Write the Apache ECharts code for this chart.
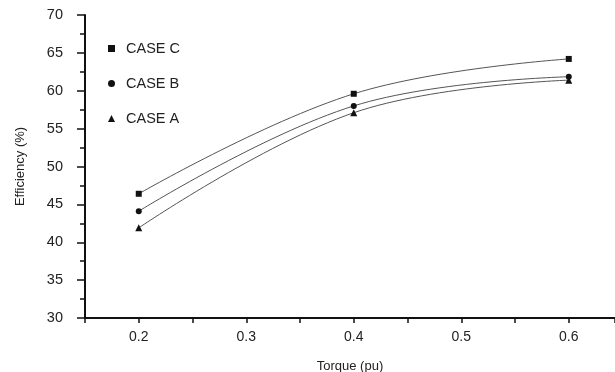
<!DOCTYPE html>
<html>
<head>
<meta charset="utf-8">
<script src="https://cdn.jsdelivr.net/npm/echarts@6/dist/echarts.min.js"></script>
<style>html,body{margin:0;padding:0;background:#fff}#c{width:615px;height:372px}</style>
</head>
<body>
<div id="c"></div>
<script>
const torque = [0.2, 0.4, 0.6];
const caseA = [41.9, 57.1, 61.4];
const caseB = [44.1, 58.0, 61.85];
const caseC = [46.4, 59.6, 64.2];
const seriesNames = ['CASE C', 'CASE B', 'CASE A'];
const xTickLabels = ['0.2', '0.3', '0.4', '0.5', '0.6'];

const font = '"Liberation Sans", Arial, sans-serif';
const chart = echarts.init(document.getElementById('c'));

function mk(name, vals, symbol) {
  return {
    name: name, type: 'line', smooth: 0.4,
    data: torque.map((t, i) => [t, vals[i]]),
    symbol: symbol, symbolSize: symbol === 'triangle' ? 7 : 6,
    showSymbol: true,
    lineStyle: { color: '#555', width: 1 },
    itemStyle: { color: '#111' },
    z: 3
  };
}

chart.setOption({
  animation: false,
  backgroundColor: '#fff',
  grid: { left: 85, right: 0, top: 15, bottom: 54, containLabel: false, outerBoundsMode: 'none' },
  legend: {
    orient: 'vertical', left: 103, top: 36, itemGap: 20,
    itemWidth: 7, itemHeight: 7,
    data: [
      { name: seriesNames[0], icon: 'rect' },
      { name: seriesNames[1], icon: 'circle' },
      { name: seriesNames[2], icon: 'triangle' }
    ],
    textStyle: { fontFamily: font, fontSize: 14.5, color: '#222', padding: [5, 0, 0, 6] }
  },
  xAxis: {
    type: 'value', min: 0.15, max: 0.643, interval: 0.05,
    name: 'Torque (pu)', nameLocation: 'middle', nameGap: 42,
    nameTextStyle: { fontFamily: font, fontSize: 13, color: '#222' },
    axisLine: { onZero: false, lineStyle: { color: '#111', width: 2 } },
    axisTick: { show: true, length: 5, lineStyle: { color: '#111', width: 1.5 } },
    splitLine: { show: false },
    axisLabel: {
      fontFamily: font, fontSize: 14, color: '#222', margin: 12,
      showMinLabel: true, showMaxLabel: true,
      formatter: function (v) {
        const one = (Math.round(v * 10) / 10).toFixed(1);
        if (Math.abs(v * 10 - Math.round(v * 10)) < 1e-6 && xTickLabels.indexOf(one) >= 0) return one;
        return '';
      }
    }
  },
  yAxis: {
    type: 'value', min: 30, max: 70, interval: 5,
    name: 'Efficiency (%)', nameLocation: 'middle', nameGap: 58,
    nameTextStyle: { fontFamily: font, fontSize: 13, color: '#222' },
    axisLine: { show: true, lineStyle: { color: '#111', width: 2 } },
    axisTick: { show: true, length: 8, lineStyle: { color: '#111', width: 1.5 } },
    minorTick: { show: true, splitNumber: 2, length: 5, lineStyle: { color: '#111', width: 1.5 } },
    splitLine: { show: false },
    axisLabel: { fontFamily: font, fontSize: 14.5, color: '#222', margin: 22 }
  },
  series: [
    mk(seriesNames[0], caseC, 'rect'),
    mk(seriesNames[1], caseB, 'circle'),
    mk(seriesNames[2], caseA, 'triangle')
  ]
});
</script>
</body>
</html>
